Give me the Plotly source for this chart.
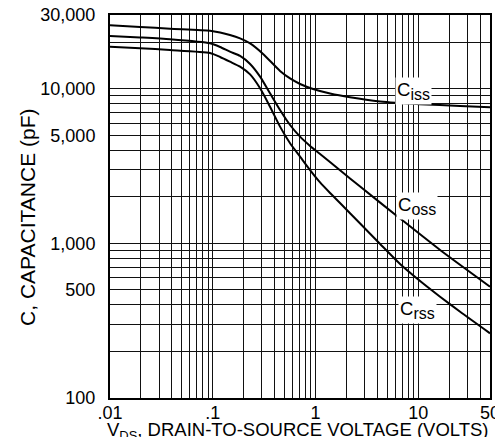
import plotly.graph_objects as go
import math

# ---- data ----
ciss_v = [0.01, 0.0196, 0.0384, 0.0942, 0.1179, 0.147, 0.1845, 0.231, 0.309, 0.452, 0.566, 0.708, 0.948, 1.387, 2.17, 4.26, 10.4, 25.6, 50]
ciss_c = [25750, 25100, 24470, 23760, 23130, 22280, 21160, 19640, 16800, 13040, 11660, 10740, 9970, 9320, 8810, 8280, 7950, 7740, 7590]

coss_v = [0.01, 0.0196, 0.0384, 0.0942, 0.1179, 0.147, 0.1845, 0.231, 0.289, 0.361, 0.452, 0.566, 0.708, 0.886, 1.109, 1.734, 2.72, 6.66, 16.33, 50]
coss_c = [21950, 21470, 20910, 19700, 18640, 17380, 16310, 14470, 11980, 9350, 7290, 5830, 4900, 4270, 3790, 2970, 2330, 1450, 907, 525]

crss_v = [0.01, 0.0196, 0.0384, 0.0942, 0.1179, 0.147, 0.1845, 0.231, 0.289, 0.361, 0.452, 0.566, 0.708, 0.886, 1.109, 1.387, 1.734, 2.72, 4.26, 6.66, 10.43, 16.33, 25.6, 50]
crss_c = [18720, 18280, 17820, 17040, 16060, 14980, 13900, 12380, 10070, 7660, 5690, 4440, 3640, 2980, 2480, 2120, 1825, 1345, 991, 736, 571, 452, 361, 262]

x_grid = [0.01, 0.02, 0.03, 0.04, 0.05, 0.06, 0.07, 0.08, 0.09,
          0.1, 0.2, 0.3, 0.4, 0.5, 0.6, 0.7, 0.8, 0.9,
          1, 2, 3, 4, 5, 6, 7, 8, 9,
          10, 20, 30, 40, 50]
x_labels = {0.01: ".01", 0.1: ".1", 1: "1", 10: "10", 50: "50"}

y_grid = [100, 200, 300, 400, 500, 600, 700, 800, 900,
          1000, 2000, 3000, 4000, 5000, 6000, 7000, 8000, 9000,
          10000, 20000, 30000]
y_labels = {100: "100", 500: "500", 1000: "1,000", 5000: "5,000", 10000: "10,000", 30000: "30,000"}

FONT = "Liberation Sans, Arial, sans-serif"

fig = go.Figure()
for v, c in [(ciss_v, ciss_c), (coss_v, coss_c), (crss_v, crss_c)]:
    fig.add_trace(go.Scatter(x=v, y=c, mode="lines",
                             line=dict(color="black", width=2, shape="spline", smoothing=0.6),
                             showlegend=False, hoverinfo="skip"))

SUB = "<sub><span style='font-size:16px'>{}</span></sub>"
ann_style = dict(showarrow=False, bgcolor="white", font=dict(family=FONT, size=18.5, color="black"),
                 xref="x", yref="y", borderpad=1)
fig.add_annotation(x=math.log10(9.1), y=math.log10(9700), text="C" + SUB.format("iss"), **ann_style)
fig.add_annotation(x=math.log10(9.75), y=math.log10(1750), text="C" + SUB.format("oss"), **ann_style)
fig.add_annotation(x=math.log10(9.95), y=math.log10(370), text="C" + SUB.format("rss"), **ann_style)

# axis titles
fig.add_annotation(text="V<sub>DS</sub>, DRAIN-TO-SOURCE VOLTAGE (VOLTS)",
                   xref="paper", yref="paper", x=0.4947, y=-0.05,
                   xanchor="center", yanchor="top", showarrow=False,
                   font=dict(family=FONT, size=18.5, color="black"))
fig.add_annotation(text="C, CAPACITANCE (pF)", textangle=-90,
                   xref="paper", yref="paper", x=-0.216, y=0.4726,
                   xanchor="center", yanchor="middle", showarrow=False,
                   font=dict(family=FONT, size=21, color="black"))

fig.update_xaxes(type="log", range=[math.log10(0.01) - 1e-6, math.log10(50) + 1e-6],
                 tickmode="array", tickvals=x_grid,
                 ticktext=[x_labels.get(v, "") for v in x_grid],
                 showgrid=True, gridcolor="#111", gridwidth=1,
                 showline=True, linecolor="black", linewidth=2, mirror=True,
                 ticks="", ticklen=0, ticklabelstandoff=-3, ticklabeloverflow="allow",
                 tickfont=dict(family=FONT, size=18, color="black"),
                 automargin=False, zeroline=False)
fig.update_yaxes(type="log", range=[2 - 1e-6, math.log10(30000) + 1e-6],
                 tickmode="array", tickvals=y_grid,
                 ticktext=[y_labels.get(v, "") for v in y_grid],
                 showgrid=True, gridcolor="#111", gridwidth=1,
                 showline=True, linecolor="black", linewidth=2, mirror=True,
                 ticks="", ticklen=0, ticklabelstandoff=9, ticklabeloverflow="allow",
                 tickfont=dict(family=FONT, size=18, color="black"),
                 automargin=False, zeroline=False)

fig.update_layout(width=495, height=429,
                  margin=dict(l=102, r=13, t=7, b=39),
                  paper_bgcolor="white", plot_bgcolor="white")

fig.write_html("out.html")
